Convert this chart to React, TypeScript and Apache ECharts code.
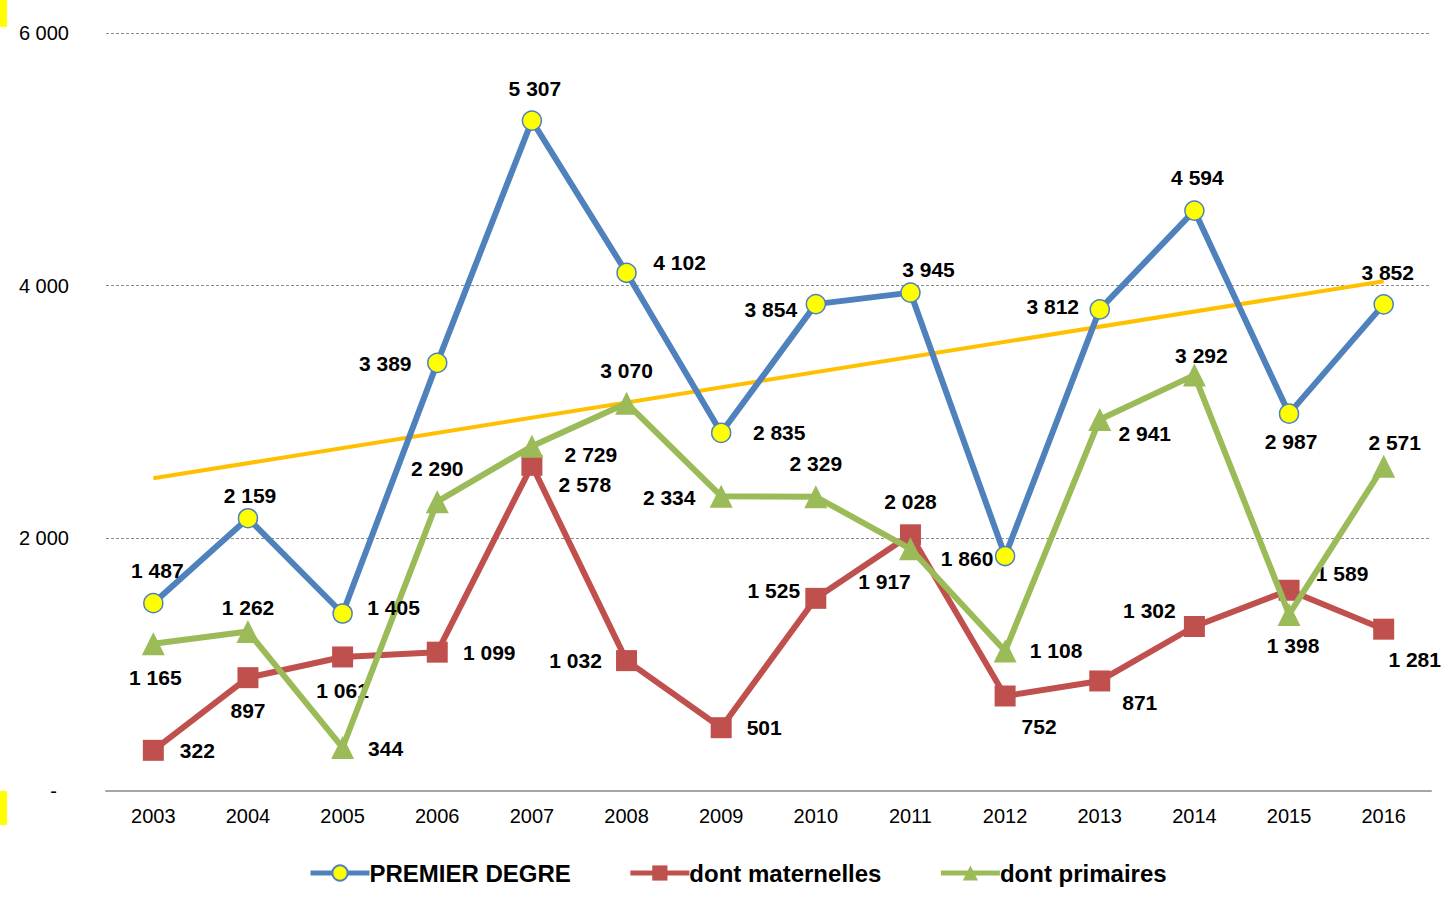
import React, { useEffect, useRef } from "react";
import * as echarts from "echarts";

const years = ["2003", "2004", "2005", "2006", "2007", "2008", "2009", "2010", "2011", "2012", "2013", "2014", "2015", "2016"];
const premierDegre = [1487, 2159, 1405, 3389, 5307, 4102, 2835, 3854, 3945, 1860, 3812, 4594, 2987, 3852];
const maternelles = [322, 897, 1061, 1099, 2578, 1032, 501, 1525, 2028, 752, 871, 1302, 1589, 1281];
const primaires = [1165, 1262, 344, 2290, 2729, 3070, 2334, 2329, 1917, 1108, 2941, 3292, 1398, 2571];
// trend line endpoints (first and last year)
const trendStart = 2475;
const trendEnd = 4035;
const yTicks = [0, 2000, 4000, 6000];

// label offsets (layout)
const pdOffsets = [[4, -33], [2, -23], [51, -6], [-52, 1], [3, -32], [53, -10], [58, 0], [-45, 5], [18, -23], [-38, 2], [-47, -3], [3, -33], [2, 28], [4, -32]];
const matOffsets = [[44, 0], [0, 33], [0, 34], [52, 0], [53, 19], [-51, 0], [43, 0], [-42, -8], [0, -33], [34, 31], [40, 22], [-45, -16], [53, -17], [31, 30]];
const primOffsets = [[2, 34], [0, -24], [43, 1], [0, -33], [59, 8], [0, -33], [-52, 1], [0, -33], [-26, 33], [51, -1], [45, 14], [7, -20], [4, 31], [11, -24]];

const FONT = "'Liberation Sans', Arial, sans-serif";

function fmt(n: number): string {
  const v = Math.round(n);
  if (v === 0) return "-";
  if (v >= 1000) {
    const th = Math.floor(v / 1000);
    const rest = String(v % 1000).padStart(3, "0");
    return th + " " + rest;
  }
  return String(v);
}

function withLabels(values: number[], offsets: number[][]) {
  return values.map((v, i) => ({ value: v, label: { offset: offsets[i] } }));
}

export default function App() {
  const ref = useRef<HTMLDivElement>(null);
  useEffect(() => {
    if (!ref.current) return;
    const chart = echarts.init(ref.current, undefined, { renderer: "svg" });
    const labelStyle = {
      show: true,
      position: "inside" as const,
      fontFamily: FONT,
      fontSize: 21,
      fontWeight: "bold" as const,
      color: "#000",
      formatter: (p: any) => fmt(p.value),
    };
    const trendData: (number | null)[] = years.map(() => null);
    trendData[0] = trendStart;
    trendData[years.length - 1] = trendEnd;

    chart.setOption({
      animation: false,
      backgroundColor: "#fff",
      textStyle: { fontFamily: FONT },
      grid: { left: 106, right: 18, top: 33, bottom: 109, containLabel: false },
      legend: {
        left: 303,
        top: 856,
        itemWidth: 59,
        itemHeight: 19,
        itemGap: 57,
        lineStyle: { width: 5 },
        textStyle: { fontFamily: FONT, fontSize: 24, fontWeight: "bold", color: "#000", padding: [0, 0, 0, -5] },
        data: ["PREMIER DEGRE", "dont maternelles", "dont primaires"],
      },
      xAxis: {
        type: "category",
        data: years,
        boundaryGap: true,
        axisLine: { lineStyle: { color: "#a6a6a6", width: 2 } },
        axisTick: { show: false },
        axisLabel: { fontFamily: FONT, fontSize: 20, color: "#000", margin: 15 },
        splitLine: { show: false },
      },
      yAxis: {
        type: "value",
        min: yTicks[0],
        max: yTicks[yTicks.length - 1],
        interval: 2000,
        axisLine: { show: false },
        axisTick: { show: false },
        axisLabel: {
          fontFamily: FONT,
          fontSize: 20,
          color: "#000",
          margin: 37,
          formatter: (v: number) => (v === 0 ? "{d|-}" : fmt(v)),
          rich: { d: { fontFamily: FONT, fontSize: 20, color: "#000", padding: [0, 12, 0, 0] } },
        },
        splitLine: { show: true, lineStyle: { color: "#8c8c8c", width: 1, type: [3, 2] } },
      },
      series: [
        {
          name: "Tendance",
          type: "line",
          data: trendData,
          connectNulls: true,
          symbol: "none",
          lineStyle: { color: "#ffc000", width: 4 },
          itemStyle: { color: "#ffc000" },
          z: 1,
          silent: true,
        },
        {
          name: "dont maternelles",
          type: "line",
          data: withLabels(maternelles, matOffsets),
          symbol: "rect",
          symbolSize: 21,
          lineStyle: { color: "#c0504d", width: 6 },
          itemStyle: { color: "#c0504d" },
          label: labelStyle,
          z: 2,
        },
        {
          name: "dont primaires",
          type: "line",
          data: withLabels(primaires, primOffsets),
          symbol: "triangle",
          symbolSize: 23,
          lineStyle: { color: "#9bbb59", width: 6 },
          itemStyle: { color: "#9bbb59" },
          label: labelStyle,
          z: 3,
        },
        {
          name: "PREMIER DEGRE",
          type: "line",
          data: withLabels(premierDegre, pdOffsets),
          symbol: "circle",
          symbolSize: 19,
          lineStyle: { color: "#4f81bd", width: 6 },
          itemStyle: { color: "#ffff00", borderColor: "#4f81bd", borderWidth: 1.5 },
          label: labelStyle,
          z: 4,
        },
      ],
      graphic: [
        { type: "rect", left: 0, top: 0, shape: { width: 7, height: 27 }, style: { fill: "#ffff00" } },
        { type: "rect", left: 0, top: 791, shape: { width: 7, height: 34 }, style: { fill: "#ffff00" } },
      ],
    });
    return () => chart.dispose();
  }, []);
  return <div ref={ref} style={{ position: "fixed", left: 0, top: 0, width: 1449, height: 900 }} />;
}
